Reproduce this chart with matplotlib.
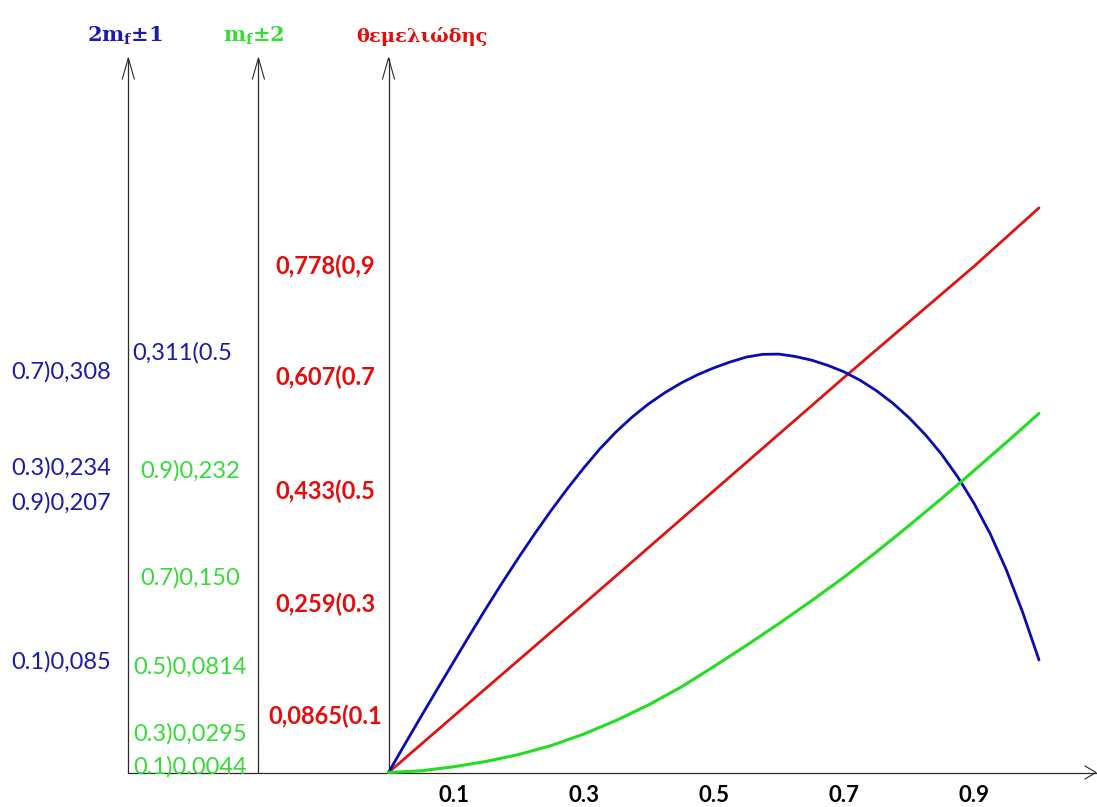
import matplotlib
matplotlib.use("Agg")
import matplotlib.pyplot as plt

# Modulation index samples for the 2mf±1 curve
m1 = [0.0, 0.025, 0.05, 0.075, 0.1, 0.125, 0.15, 0.175, 0.2, 0.225, 0.25,
      0.275, 0.3, 0.325, 0.35, 0.375, 0.4, 0.425, 0.45, 0.475, 0.5,
      0.525, 0.55, 0.575, 0.6, 0.625, 0.65, 0.675, 0.7, 0.725, 0.75,
      0.775, 0.8, 0.825, 0.85, 0.875, 0.9, 0.925, 0.95, 0.975, 1.0]
# Relative amplitude of the 2mf±1 components
side1 = [0.0, 0.0216, 0.0430, 0.0641, 0.085, 0.1058, 0.1262, 0.1460, 0.1652, 0.1837, 0.2014,
         0.2182, 0.234, 0.2488, 0.2619, 0.2734, 0.2834, 0.2920, 0.2994, 0.3057, 0.311,
         0.3155, 0.3193, 0.3214, 0.3216, 0.3198, 0.3170, 0.3130, 0.308, 0.3015, 0.2935,
         0.2840, 0.2728, 0.2598, 0.2448, 0.2272, 0.207, 0.1835, 0.1555, 0.1230, 0.0865]

# Modulation index samples for the mf±2 curve
m2 = [0.0, 0.05, 0.1, 0.15, 0.2, 0.25, 0.3, 0.35, 0.4, 0.45, 0.5,
      0.55, 0.6, 0.65, 0.7, 0.75, 0.8, 0.85, 0.9, 0.95, 1.0]
# Relative amplitude of the mf±2 components
side2 = [0.0, 0.0013, 0.0044, 0.0085, 0.0138, 0.0207, 0.0295, 0.0400, 0.0520, 0.0657, 0.0814,
         0.0976, 0.1144, 0.1319, 0.150, 0.1695, 0.1897, 0.2105, 0.232, 0.2538, 0.276]

# Fundamental
fund_m = [0.0, 0.1, 0.3, 0.5, 0.7, 0.9, 1.0]
fund = [0.0, 0.0865, 0.259, 0.433, 0.607, 0.778, 0.868]

# Side-band curves are drawn magnified
SIDE_SCALE = 2.0

# Axis labels
tick_m = [0.1, 0.3, 0.5, 0.7, 0.9]
tick_labels = ["0.1", "0.3", "0.5", "0.7", "0.9"]

# Value labels
fund_vals = [0.0865, 0.259, 0.433, 0.607, 0.778]
fund_texts = ["0,0865(0.1", "0,259(0.3", "0,433(0.5", "0,607(0.7", "0,778(0,9"]

side1_vals = [0.085, 0.234, 0.308, 0.207]
side1_texts = ["0.1)0,085", "0.3)0,234", "0.7)0,308", "0.9)0,207"]
side1_mid_val = 0.311
side1_mid_text = "0,311(0.5"

side2_vals = [0.0044, 0.0295, 0.0814, 0.150, 0.232]
side2_texts = ["0.1)0.0044", "0.3)0,0295", "0.5)0,0814", "0.7)0,150", "0.9)0,232"]

BLUE_TXT, BLUE_LN = "#1a1aae", "#0b0bb5"
GREEN_TXT, GREEN_LN = "#35dc35", "#22dd22"
RED_TXT, RED_LN = "#e50c0c", "#dd1414"
AX_COL = "#2b2b2b"

plt.rcParams["font.family"] = ["Lato", "DejaVu Sans"]
plt.rcParams["mathtext.fontset"] = "custom"
plt.rcParams["mathtext.bf"] = "DejaVu Serif:bold"
plt.rcParams["mathtext.rm"] = "DejaVu Serif"

W, H = 1097, 807
UNIT = 650.5           # pixels per unit
OX, OY = 388.5, 772.5  # origin in pixels

fig = plt.figure(figsize=(W / 100, H / 100), dpi=100)
ax = fig.add_axes([0, 0, 1, 1])
ax.set_xlim(-OX / UNIT, (W - OX) / UNIT)
ax.set_ylim(-(H - OY) / UNIT, OY / UNIT)
ax.axis("off")

# Three vertical axes with open arrowheads
top = (OY - 58) / UNIT
ahx, ahy = 6 / UNIT, 21 / UNIT
for xa in (-0.4, -0.2, 0.0):
    ax.plot([xa, xa], [0, top], color=AX_COL, lw=0.9, solid_capstyle="butt")
    ax.plot([xa - ahx, xa, xa + ahx], [top - ahy, top, top - ahy],
            color=AX_COL, lw=0.8)

# Horizontal axis
xend = (1096 - OX) / UNIT
ax.plot([-0.4, xend], [0, 0], color=AX_COL, lw=0.9)
ax.plot([xend - 11 / UNIT, xend, xend - 11 / UNIT],
        [6.5 / UNIT, 0, -6.5 / UNIT], color=AX_COL, lw=0.8)

# Curves
ax.plot(fund_m, fund, color=RED_LN, lw=2.0, solid_capstyle="round")
ax.plot(m1, [v * SIDE_SCALE for v in side1], color=BLUE_LN, lw=2.0,
        solid_capstyle="round", solid_joinstyle="round")
ax.plot(m2, [v * SIDE_SCALE for v in side2], color=GREEN_LN, lw=2.2,
        solid_capstyle="round", solid_joinstyle="round")

# Headers over the vertical axes
hy = (OY - 36) / UNIT
ax.text(-0.406, hy, r"$\mathbf{2m}_{\mathbf{f}}\mathbf{\pm1}$", color=BLUE_TXT,
        fontsize=15, ha="center", va="center")
ax.text(-0.207, hy, r"$\mathbf{m}_{\mathbf{f}}\mathbf{\pm2}$", color=GREEN_TXT,
        fontsize=15, ha="center", va="center")
ax.text(0.052, hy, "θεμελιώδης", color=RED_TXT, fontsize=14,
        family="DejaVu Serif", weight="bold", ha="center", va="center")

# Value labels, each at the height of its drawn value
col1 = (61 - OX) / UNIT
col2 = (190 - OX) / UNIT
col3 = (325 - OX) / UNIT
for v, t in zip(side1_vals, side1_texts):
    ax.text(col1, v * SIDE_SCALE, t, color=BLUE_TXT, fontsize=17,
            ha="center", va="center")
ax.annotate(side1_mid_text, ((182 - OX) / UNIT, side1_mid_val * SIDE_SCALE),
            xytext=(0, 11), textcoords="offset points", color=BLUE_TXT,
            fontsize=17, ha="center", va="center")
for v, t in zip(side2_vals, side2_texts):
    ax.text(col2, v * SIDE_SCALE, t, color=GREEN_TXT, fontsize=17,
            ha="center", va="center")
for v, t in zip(fund_vals, fund_texts):
    ax.text(col3, v, t, color=RED_TXT, fontsize=17, weight="bold",
            ha="center", va="center")

# x tick labels
for xm, t in zip(tick_m, tick_labels):
    ax.text(xm, -(796 - OY) / UNIT, t, color="black", fontsize=16,
            weight="bold", ha="center", va="center")

fig.savefig("out.png", dpi=100)
